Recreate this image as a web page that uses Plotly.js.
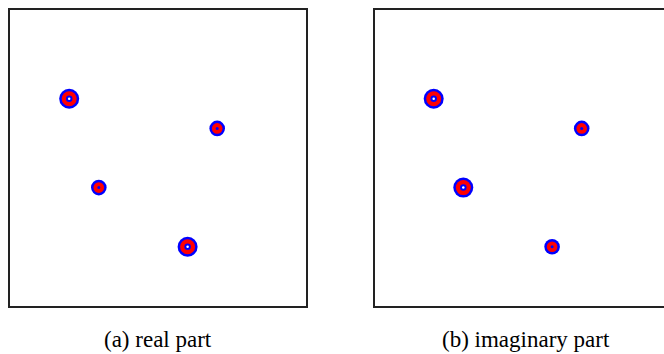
<!DOCTYPE html>
<html>
<head>
<meta charset="utf-8">
<script src="https://cdn.plot.ly/plotly-3.0.1.min.js"></script>
<style>
html,body{margin:0;padding:0;overflow:hidden;background:#fff;}
#plot{width:680px;height:354px;}
</style>
</head>
<body>
<div id="plot"></div>
<script>
// Data: positions of the four sources and their magnitudes (relative)
var xPos = [0.2, 0.7, 0.3, 0.6];
var yPos = [0.7, 0.6, 0.4, 0.2];
var realMag = [1.0, 0.78, 0.78, 1.0];
var imagMag = [1.0, 0.78, 1.0, 0.78];
var captions = ['(a) real part', '(b) imaginary part'];

var W = 680, H = 354;
var BLUE = '#0000ff', RED = '#ff0000';

function layers(mag) {
  // diameters in px for each concentric layer as function of magnitude
  return [
    {c: BLUE, s: mag.map(function(m){return 20*m;})},
    {c: RED, s: mag.map(function(m){return 20*m - 5;})},
    {c: BLUE, s: mag.map(function(m){return Math.max(0, 15.9*m - 9.4);})},
    {c: '#ffffff', s: mag.map(function(m){return Math.max(0, 11.4*m - 8.9);})}
  ];
}

var traces = [];
[[realMag, 'x', 'y'], [imagMag, 'x2', 'y2']].forEach(function(p){
  layers(p[0]).forEach(function(L){
    traces.push({
      type: 'scatter', mode: 'markers', x: xPos, y: yPos,
      xaxis: p[1], yaxis: p[2], hoverinfo: 'skip',
      marker: {color: L.c, size: L.s, opacity: 1, line: {width: 0}}
    });
  });
});

var ax = {range: [0, 1], showgrid: false, zeroline: false, showticklabels: false,
  ticks: '', showline: true, mirror: true, linecolor: '#222', linewidth: 2, fixedrange: true};
function cp(o, extra){ var r = JSON.parse(JSON.stringify(o)); for (var k in extra) r[k] = extra[k]; return r; }

var yDom = [1 - 306/H, 1 - 10/H];
var capFont = {family: 'Liberation Serif, DejaVu Serif, serif', size: 23, color: '#000'};
var layout = {
  width: W, height: H, margin: {l: 0, r: 0, t: 0, b: 0},
  paper_bgcolor: '#fff', plot_bgcolor: '#fff', showlegend: false,
  xaxis: cp(ax, {domain: [10/W, 306/W]}),
  yaxis: cp(ax, {domain: yDom}),
  xaxis2: cp(ax, {domain: [374.5/W, 670.5/W], anchor: 'y2'}),
  yaxis2: cp(ax, {domain: yDom, anchor: 'x2'}),
  annotations: [
    {text: captions[0], xref: 'paper', yref: 'paper', x: 158/W, y: 1 - 339/H,
     xanchor: 'center', yanchor: 'middle', showarrow: false, font: capFont},
    {text: captions[1], xref: 'paper', yref: 'paper', x: 526/W, y: 1 - 339/H,
     xanchor: 'center', yanchor: 'middle', showarrow: false, font: capFont}
  ]
};

Plotly.newPlot('plot', traces, layout, {displayModeBar: false, staticPlot: true});
</script>
</body>
</html>
